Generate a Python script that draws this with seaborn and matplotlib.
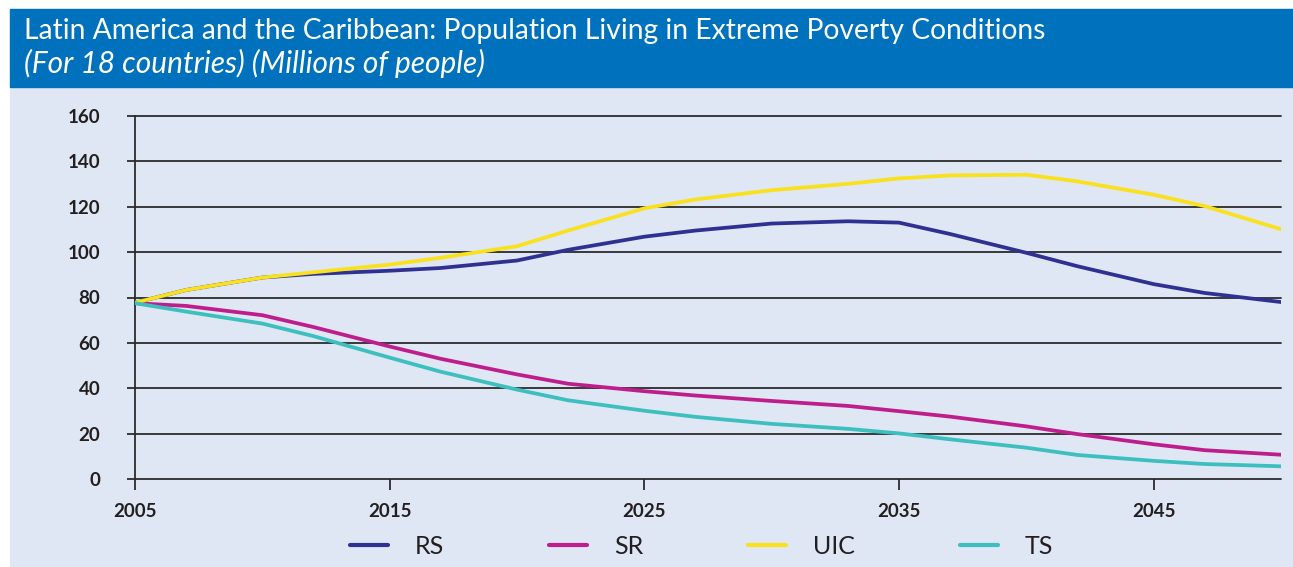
import matplotlib
matplotlib.use("Agg")
import matplotlib.pyplot as plt
from matplotlib.patches import Rectangle
from matplotlib.lines import Line2D
import seaborn as sns
import pandas as pd

# ---- data ----
years = [2005, 2007, 2010, 2012, 2015, 2017, 2020, 2022, 2025, 2027,
         2030, 2033, 2035, 2037, 2040, 2042, 2045, 2047, 2050]
rs  = [77.7, 83.3, 88.8, 90.4, 91.8, 93.0, 96.3, 101.0, 106.8, 109.5,
       112.6, 113.6, 113.0, 108.0, 99.7, 93.8, 85.9, 82.0, 78.0]
sr  = [77.5, 76.3, 72.2, 67.0, 58.4, 53.0, 46.1, 42.0, 38.7, 36.8,
       34.4, 32.2, 29.9, 27.5, 23.2, 19.8, 15.3, 12.7, 10.7]
uic = [77.7, 83.3, 88.8, 91.1, 94.5, 97.5, 102.6, 109.5, 119.3, 123.2,
       127.3, 130.1, 132.5, 133.8, 134.1, 131.2, 125.3, 120.3, 110.1]
ts  = [77.5, 73.8, 68.5, 63.0, 53.5, 47.3, 39.4, 34.7, 30.1, 27.4,
       24.3, 22.1, 20.1, 17.5, 13.8, 10.6, 8.0, 6.6, 5.6]
series_names = ["RS", "SR", "UIC", "TS"]
colors = ["#2E3192", "#BE1E8C", "#F9E11E", "#3CBFBE"]
yticks = [0, 20, 40, 60, 80, 100, 120, 140, 160]
xticks = [2005, 2015, 2025, 2035, 2045]

title = "Latin America and the Caribbean: Population Living in Extreme Poverty Conditions"
subtitle = "(For 18 countries) (Millions of people)"

df = pd.concat([
    pd.DataFrame({"year": years, "value": vals, "scenario": name})
    for name, vals in zip(series_names, [rs, sr, uic, ts])
])

sns.set_theme(style="white")
plt.rcParams["font.family"] = ["Lato", "DejaVu Sans"]

W, H = 1293, 567
fig = plt.figure(figsize=(W / 100, H / 100), dpi=100)
fig.patch.set_facecolor("white")

bg = "#DFE7F4"
dark = "#231F20"
# background panel and title banner
fig.patches.append(Rectangle((10 / W, 0), 1 - 10 / W, 1 - 87 / H,
                             transform=fig.transFigure, color=bg, zorder=-10))
fig.patches.append(Rectangle((10 / W, 1 - 87 / H), 1 - 10 / W, 78 / H,
                             transform=fig.transFigure, color="#0071BC", zorder=-10))
fig.text(24 / W, 1 - 31 / H, title, color="white", fontsize=20.3,
         va="center", ha="left")
fig.text(24 / W, 1 - 63 / H, subtitle, color="white", fontsize=21.5,
         style="italic", va="center", ha="left")

ax = fig.add_axes([135 / W, 88 / H, (1281 - 135) / W, (479 - 116) / H])
ax.set_facecolor("none")
ax.set_zorder(5)

sns.lineplot(data=df, x="year", y="value", hue="scenario",
             hue_order=series_names, palette=colors, linewidth=2.7,
             legend=False, ax=ax, zorder=3)

ax.set_xlim(2005, 2050)
ax.set_ylim(0, 160)
ax.set_yticks(yticks)
ax.set_xticks(xticks)
ax.set_xlabel("")
ax.set_ylabel("")
for y in yticks:
    ax.axhline(y, color="#2B2B2B", linewidth=1.3, zorder=1, clip_on=False)
for s in ["top", "right", "bottom"]:
    ax.spines[s].set_visible(False)
ax.spines["left"].set_color("#2B2B2B")
ax.spines["left"].set_linewidth(1.3)
ax.tick_params(axis="y", length=6, width=1.3, color="#2B2B2B", pad=19,
               labelsize=13.5, labelcolor=dark, left=True)
ax.tick_params(axis="x", length=8, width=1.3, color="#2B2B2B", pad=9,
               labelsize=13.5, labelcolor=dark, bottom=True, direction="out")
for lab in ax.get_xticklabels() + ax.get_yticklabels():
    lab.set_fontweight("bold")

handles = [Line2D([0], [0], color=c, linewidth=3) for c in colors]
fig.legend(handles, series_names, loc="center",
           bbox_to_anchor=(0.5 + 55 / W, 1 - 546 / H),
           ncol=4, frameon=False, fontsize=18, handlelength=1.52,
           handletextpad=1.08, columnspacing=4.2, labelcolor=dark)

fig.savefig("out.png", dpi=100)
